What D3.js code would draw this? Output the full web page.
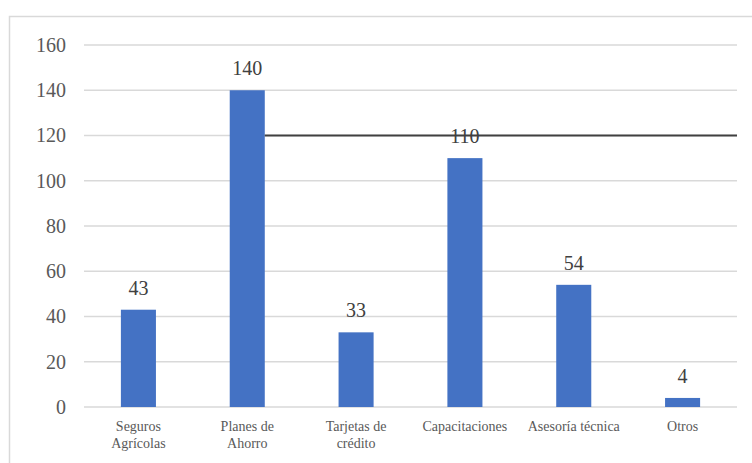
<!DOCTYPE html>
<html>
<head>
<meta charset="utf-8">
<script src="https://cdn.jsdelivr.net/npm/d3@7"></script>
<style>
  html, body { margin: 0; padding: 0; background: #fff; font-family: "Liberation Serif", serif; }
  svg { display: block; font-family: "Liberation Serif", serif; }
</style>
</head>
<body>
<svg id="chart" width="752" height="463"></svg>
<script>
// Servicios financieros y no financieros demandados
const categories = [["Seguros", "Agrícolas"], ["Planes de", "Ahorro"], ["Tarjetas de", "crédito"], ["Capacitaciones"], ["Asesoría técnica"], ["Otros"]];
const values = [43, 140, 33, 110, 54, 4];
const yTicks = [0, 20, 40, 60, 80, 100, 120, 140, 160];
const refValue = 120;

(function () {
  const FONT = '"Liberation Serif"';
  const svg = d3.select("#chart");

  // outer chart frame
  svg.append("rect")
    .attr("x", 9.5).attr("y", 16.5).attr("width", 760).attr("height", 470)
    .attr("fill", "#fff").attr("stroke", "#d9d9d9").attr("stroke-width", 1.5);

  const mLeft = 84, mRight = 737, mTop = 45, mBottom = 407;

  const x = d3.scaleBand().domain(d3.range(categories.length)).range([mLeft, mRight]).paddingInner(0.678).paddingOuter(0.339);
  const y = d3.scaleLinear().domain([0, 160]).range([mBottom, mTop]);

  // horizontal gridlines
  svg.append("g").selectAll("line").data(yTicks).join("line")
    .attr("x1", mLeft).attr("x2", mRight)
    .attr("y1", d => y(d)).attr("y2", d => y(d))
    .attr("stroke", "#d9d9d9").attr("stroke-width", 1.5);

  // y axis labels
  const yAxis = d3.axisLeft(y).tickValues(yTicks).tickSize(0).tickPadding(18);
  const gy = svg.append("g").attr("transform", `translate(${mLeft},0)`).call(yAxis)
    .attr("font-family", FONT);
  gy.select(".domain").remove();
  gy.selectAll("text").attr("font-size", 20).attr("fill", "#595959")
    .attr("font-family", FONT).style("font-family", FONT);

  // bars
  svg.append("g").selectAll("rect").data(values).join("rect")
    .attr("x", (d, i) => x(i)).attr("width", x.bandwidth())
    .attr("y", d => y(d)).attr("height", d => y(0) - y(d))
    .attr("fill", "#4472c4");

  // reference line at 120 starting from the right edge of the second bar
  svg.append("line")
    .attr("x1", x(1) + x.bandwidth()).attr("x2", mRight)
    .attr("y1", y(refValue)).attr("y2", y(refValue))
    .attr("stroke", "#404040").attr("stroke-width", 2);

  // value labels
  svg.append("g").selectAll("text").data(values).join("text")
    .attr("x", (d, i) => x(i) + x.bandwidth() / 2)
    .attr("y", d => y(d) - 15)
    .attr("text-anchor", "middle").attr("font-size", 20).attr("fill", "#404040")
    .attr("font-family", FONT).style("font-family", FONT)
    .text(d => d);

  // category labels
  const cat = svg.append("g").selectAll("text").data(categories).join("text")
    .attr("x", (d, i) => x(i) + x.bandwidth() / 2)
    .attr("y", 431)
    .attr("text-anchor", "middle").attr("font-size", 14).attr("fill", "#595959")
    .attr("font-family", FONT).style("font-family", FONT);
  cat.selectAll("tspan").data(d => d).join("tspan")
    .attr("x", function () { return d3.select(this.parentNode).attr("x"); })
    .attr("dy", (d, j) => j === 0 ? 0 : 17)
    .text(d => d);
})();
</script>
</body>
</html>
